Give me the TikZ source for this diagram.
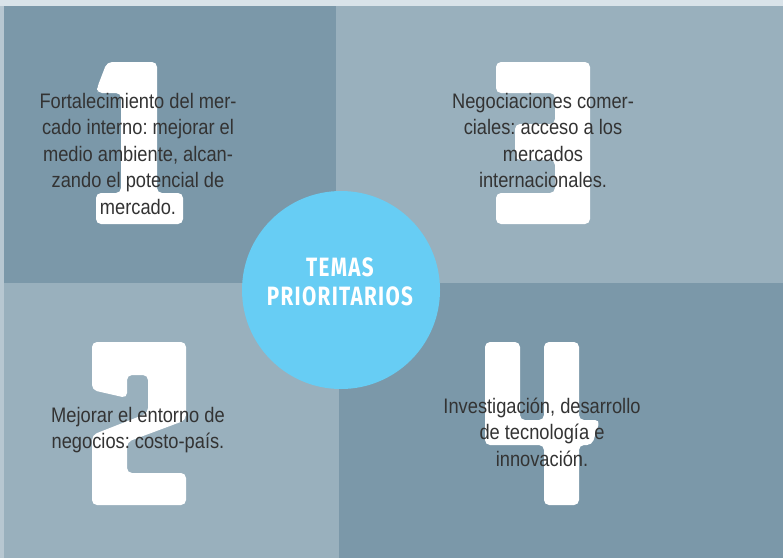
\documentclass[tikz,border=0pt]{standalone}
\usepackage{fontspec}
\setmainfont{Liberation Sans}[FakeStretch=0.87]
\newfontfamily\titlefont{Fira Sans}[FakeStretch=0.78,LetterSpace=5]
\definecolor{stripTop}{HTML}{D9E3E9}
\definecolor{stripLeft}{HTML}{B7C7D1}
\definecolor{quadDark}{HTML}{7B98A9}
\definecolor{quadLight}{HTML}{99B0BD}
\definecolor{circleBlue}{HTML}{67CDF4}
\definecolor{bodyText}{HTML}{333333}
\tikzset{
  quad/.style={draw=none},
  digit/.style={fill=white,rounded corners=5pt},
  bodytxt/.style={anchor=north,inner sep=0pt,align=center,text=bodyText,
    font=\frenchspacing\fontsize{21}{26.5}\selectfont},
  hub/.style={circle,fill=circleBlue,minimum size=198pt,inner sep=0pt},
  hubtxt/.style={anchor=north,inner sep=0pt,align=center,text=white,
    font=\titlefont\bfseries\fontsize{26.5}{29}\selectfont}
}
\newcommand{\firststrut}{\rule{0pt}{20pt}}
\begin{document}
\begin{tikzpicture}[x=1pt,y=-1pt]
\useasboundingbox (0,0) rectangle (783,558);
% background strips
\fill[stripLeft] (0,0) rectangle (783,558);
\fill[stripTop] (0,0) rectangle (783,6);
% quadrants
\fill[quadDark,quad] (4,6) rectangle (336,283);
\fill[quadLight,quad] (336,6) rectangle (783,283);
\fill[quadLight,quad] (4,283) rectangle (339,558);
\fill[quadDark,quad] (339,283) rectangle (783,558);
% digit 1
\fill[digit] (107,62) -- (157,62) -- (157,193) -- (183,193) -- (183,224)
  -- (96,224) -- (96,193) -- (121,193) -- (121,93) -- (97,93) -- (97,88) -- cycle;
% digit 3
\fill[digit] (496,62) -- (590,62) -- (590,224) -- (496,224) -- (496,193)
  -- (555,193) -- (555,160) -- (515,160) -- (515,124) -- (555,124)
  -- (555,93) -- (496,93) -- cycle;
% digit 2
\fill[digit] (92,342) -- (186,342) -- (186,420) -- (127,442) -- (127,473)
  -- (186,473) -- (186,505) -- (92,505) -- (92,435) -- (148,413)
  -- (148,375) -- (127,375) -- (127,398) -- (92,390) -- cycle;
% digit 4
\fill[digit] (485,342) -- (520,342) -- (520,420) -- (544,420) -- (544,342)
  -- (579,342) -- (579,420) -- (600,420) -- (592,445) -- (579,445)
  -- (579,505) -- (544,505) -- (544,445) -- (485,445) -- cycle;
% central circle
\node[hub] (hub) at (341,290) {};
\node[hubtxt] (hubtext) at (340,256) {\firststrut TEMAS\\PRIORITARIOS};
% quadrant texts
\node[bodytxt] (t1) at (138,88) {\firststrut Fortalecimiento del mer-\\cado interno: mejorar el\\medio ambiente, alcan-\\zando el potencial de\\mercado.};
\node[bodytxt] (t3) at (543,88) {\firststrut Negociaciones comer-\\ciales: acceso a los\\mercados\\internacionales.};
\node[bodytxt] (t2) at (138,402) {\firststrut Mejorar el entorno de\\negocios: costo-país.};
\node[bodytxt] (t4) at (542,393) {\firststrut Investigación, desarrollo\\de tecnología e\\innovación.};
\end{tikzpicture}
\end{document}
